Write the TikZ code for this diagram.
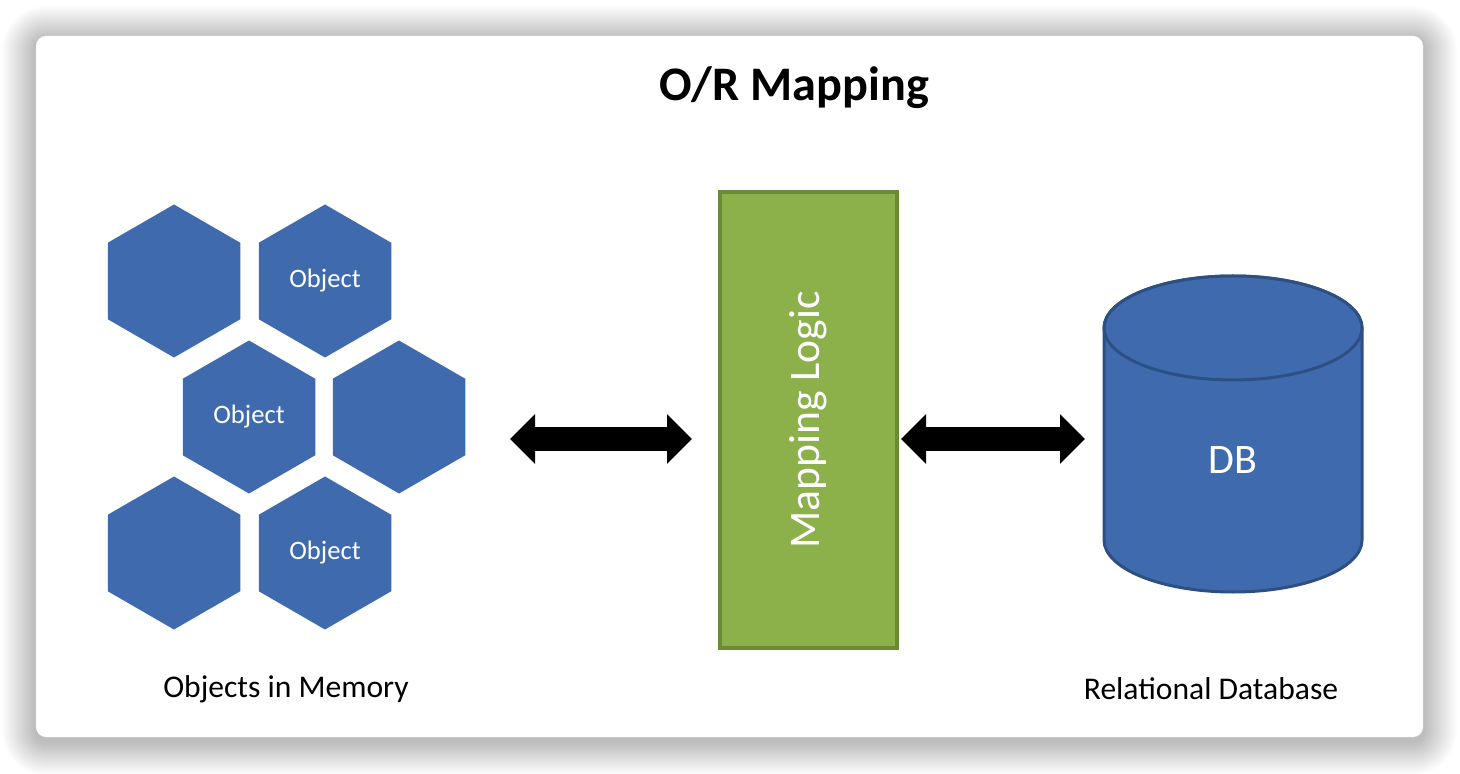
\documentclass[tikz,border=0pt]{standalone}
\usepackage{fontspec}
\setmainfont{Carlito}
\usetikzlibrary{shapes.geometric, positioning, arrows.meta, calc}
\definecolor{hexblue}{HTML}{3F6BAE}
\definecolor{dbline}{HTML}{2D4F82}
\definecolor{logicgreen}{HTML}{8CB04A}
\definecolor{logicline}{HTML}{6A8A35}
\tikzset{
  hexcell/.style={regular polygon, regular polygon sides=6, shape border rotate=30,
    minimum size=76.5pt, inner sep=0pt, fill=hexblue, text=white,
    font=\fontsize{13.3}{16}\selectfont},
  logicbox/.style={draw=logicline, line width=2pt, fill=logicgreen, text=white,
    rotate=90, minimum width=228pt, minimum height=88.5pt,
    font=\fontsize{21.8}{26}\selectfont},
  dbskin/.style={draw=dbline, line width=1.5pt, fill=hexblue},
  dbtext/.style={text=white, font=\fontsize{21}{25}\selectfont},
  dblarrow/.style={line width=12pt,
    {Triangle[length=12.5pt 0 0,width=24pt 0 0]}-{Triangle[length=12.5pt 0 0,width=24pt 0 0]}},
  caption/.style={font=\fontsize{15.8}{19}\selectfont}
}
\begin{document}
\begin{tikzpicture}[x=0.5pt, y=-0.5pt]
            \useasboundingbox (0,0) rectangle (1460,774);
            % card with soft shadow
            \foreach \i in {1,...,34}
              \fill[black, opacity=0.0065, rounded corners=(5+\i/2)*1pt]
                (36-\i,40-\i) rectangle (1423+\i,741+\i);
            \fill[white, rounded corners=5pt] (36,36) rectangle (1423,737);
            
            % Title
            \node[font=\bfseries\fontsize{24.1}{29}\selectfont] (title) at (794,88) {O/R Mapping};
            
            % Objects in memory
            \node[hexcell] (hex1) at (174,281) {};
            \node[hexcell] (hex2) at (325,281) {Object};
            \node[hexcell] (hex3) at (249,417) {Object};
            \node[hexcell] (hex4) at (399,417) {};
            \node[hexcell] (hex5) at (174,553) {};
            \node[hexcell] (hex6) at (325,553) {Object};
            \node[caption] (memlabel) at (286,689) {Objects in Memory};
            
            % Mapping logic box
            \node[logicbox] (logic) at (808.5,420) {Mapping Logic};
            
            % Database cylinder
            \draw[dbskin] (1104,328) -- (1104,540)
              arc[start angle=180, end angle=0, x radius=129, y radius=52]
              -- (1362,328)
              arc[start angle=0, end angle=-180, x radius=129, y radius=52] -- cycle;
            \draw[dbskin] (1233,328) ellipse[x radius=129, y radius=52];
            \node[dbtext] (db) at (1233,460) {DB};
            \node[caption] (dblabel) at (1211,689) {Relational Database};
            
            % Arrow ends
            \coordinate (memside) at (510,439);
            \coordinate (logicL) at (692,439);
            \coordinate (logicR) at (901,439);
            \coordinate (dbside) at (1085,439);
            
            \draw[dblarrow] (memside) -- (logicL);
            \draw[dblarrow] (logicR) -- (dbside);
        \end{tikzpicture}
\end{document}
